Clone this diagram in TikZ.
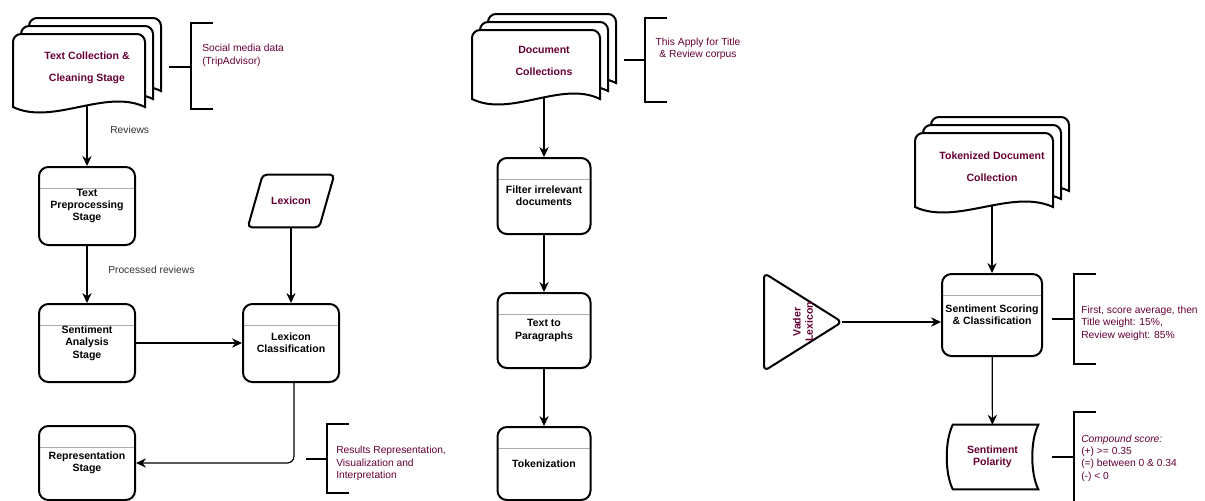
\documentclass[tikz,border=0pt]{standalone}
\usepackage{fontspec}
\setmainfont{Liberation Sans}
\usetikzlibrary{arrows.meta}

\definecolor{wine}{HTML}{660033}
\definecolor{labelgray}{HTML}{333333}

\tikzset{
	stage/.style={draw, line width=1.5pt, rounded corners=7pt, minimum width=72pt, minimum height=58.5pt,
		align=center, inner xsep=2pt, font=\bfseries\fontsize{7.9}{9.3}\selectfont,
		path picture={\draw[gray!65, line width=0.6pt] ([yshift=-16pt]path picture bounding box.north west) -- ([yshift=-16pt]path picture bounding box.north east);}},
	doctext/.style={align=center, text=wine, minimum width=96pt, font=\bfseries\fontsize{7.9}{16.5}\selectfont},
	winetext/.style={align=center, text=wine, font=\bfseries\fontsize{7.9}{9.3}\selectfont},
	sheet/.style={draw, fill=white, line width=1.5pt},
	outline/.style={draw, line width=1.5pt},
	flow/.style={line width=0.9pt, -{Stealth[length=7.5pt, width=7pt, inset=2.5pt]}},
	brace/.style={line width=0.9pt},
	note/.style={inner sep=0pt, text=wine, font=\fontsize{7.7}{9.3}\selectfont},
	edgelabel/.style={inner sep=0pt, text=labelgray, font=\fontsize{7.7}{9.3}\selectfont}
}

% stack of three sheets: left, top, width, height of the front sheet
\newcommand{\docstack}[4]{%
	\foreach \k in {2,1,0}{
		\draw[sheet] ({#1+8*\k},{#2+#4-8*\k}) [rounded corners=6pt] -- ({#1+8*\k},{#2-8*\k}) -- ({#1+#3+8*\k},{#2-8*\k})
		[sharp corners] -- ({#1+#3+8*\k},{#2+#4-8*\k})
		.. controls ({#1+0.7*#3+8*\k},{#2+#4-19-8*\k}) and ({#1+0.3*#3+8*\k},{#2+#4+19-8*\k}) .. ({#1+8*\k},{#2+#4-8*\k}) -- cycle;
	}}

% bracket: x, top, bottom, middle, start of the stub
\newcommand{\bracketnote}[5]{%
	\draw[brace] (#5,#4) -- (#1,#4);
	\draw[brace] ({#1+22},#2) -- (#1,#2) -- (#1,#3) -- ({#1+22},#3);}

\begin{document}
\begin{tikzpicture}[x=0.75pt, y=-0.75pt]
	
	\useasboundingbox (0,0) rectangle (1205,500);
	
	% left column
	\docstack{13}{34}{132}{73}
	\node[doctext, minimum height=56.25pt] (collect) at (87,68) {Text Collection \&\\Cleaning Stage};
	\bracketnote{191}{23}{109}{67}{169}
	\node[note, anchor=west, align=left] (social) at (202,55.5) {Social media data\\(TripAdvisor)};
	
	\node[stage] (prep) at (87,206) {Text\\Preprocessing\\Stage};
	\node[stage] (senti) at (87,343) {Sentiment\\Analysis\\Stage};
	\node[stage] (lexclass) at (291,343) {Lexicon\\Classification};
	\node[stage, minimum height=55.5pt] (repr) at (87,463) {Representation\\Stage};
	
	\node[winetext, minimum width=53.25pt, minimum height=39pt] (lex) at (291,201) {Lexicon};
	\draw[outline, rounded corners=3pt] ([xshift=5.6pt]lex.north west) -- ([xshift=5.6pt]lex.north east)
		-- ([xshift=-5.6pt]lex.south east) -- ([xshift=-5.6pt]lex.south west) -- cycle;
	
	\draw[flow] (collect) -- node[edgelabel, pos=.4, right=17pt] {Reviews} (prep);
	\draw[flow] (prep) -- node[edgelabel, pos=.41, right=15.5pt] {Processed reviews} (senti);
	\draw[flow] (senti) -- (lexclass);
	\draw[flow] (lex) -- (lexclass);
	\draw[flow, rounded corners=5pt] ([xshift=2.25pt]lexclass.south) |- (repr.east);
	
	\bracketnote{327}{424}{493}{459}{306}
	\node[note, anchor=west, align=left] (results) at (336,463.5) {Results Representation,\\Visualization and\\Interpretation};
	
	% middle column
	\docstack{472}{30}{128}{69}
	\node[doctext, minimum height=54.75pt] (docs) at (544,61) {Document\\Collections};
	\bracketnote{645}{18}{102}{60}{624}
	\node[note, align=center] (corpus) at (698,49) {This Apply for Title\\\& Review corpus};
	
	\node[stage, minimum width=69.75pt, minimum height=57pt] (filter) at (544,196) {Filter irrelevant\\documents};
	\node[stage, minimum width=69.75pt, minimum height=56.25pt] (para) at (544,330.5) {Text to\\Paragraphs};
	\node[stage, minimum width=69.75pt, minimum height=54.75pt] (token) at (544,463.5) {Tokenization};
	
	\draw[flow] (docs) -- (filter);
	\draw[flow] (filter) -- (para);
	\draw[flow] (para) -- (token);
	
	% right column
	\docstack{915}{133}{138}{74}
	\node[doctext, minimum height=58.5pt] (tokdocs) at (992,166.5) {Tokenized Document\\Collection};
	
	\node[stage, minimum width=75pt, minimum height=61.5pt, inner xsep=0.5pt] (scoring) at (992,315) {Sentiment Scoring\\\& Classification};
	\bracketnote{1074}{274}{364}{319}{1052}
	\node[note, anchor=west, align=left] (weights) at (1081,323) {First, score average, then\\Title weight: 15\%,\\Review weight: 85\%};
	
	\coordinate (vtip) at (842,322);
	\draw[outline, rounded corners=4pt] (764,273) -- (vtip) -- (764,371) -- cycle;
	\node[winetext, rotate=90] (vader) at (803,322) {Vader\\Lexicon};
	
	\node[winetext, minimum width=68.25pt, minimum height=48pt] (polarity) at (992.5,457) {Sentiment\\Polarity};
	\draw[outline] ([xshift=4.5pt]polarity.north west) -- (polarity.north east)
		.. controls ([xshift=-6pt, yshift=-12pt]polarity.north east) and ([xshift=-6pt, yshift=12pt]polarity.south east) .. (polarity.south east)
		-- ([xshift=4.5pt]polarity.south west)
		.. controls ([xshift=-1.5pt, yshift=12pt]polarity.south west) and ([xshift=-1.5pt, yshift=-12pt]polarity.north west) .. cycle;
	\bracketnote{1074}{412}{510}{457}{1052}
	\node[note, anchor=west, align=left] (compound) at (1081,458) {\textit{Compound score:}\\(+) >= 0.35\\(=) between 0 \& 0.34\\(-) < 0};
	
	\draw[flow] (tokdocs) -- (scoring);
	\draw[flow] (vtip) -- (vtip -| scoring.west);
	\draw[flow] (scoring) -- (polarity);
	
\end{tikzpicture}
\end{document}
